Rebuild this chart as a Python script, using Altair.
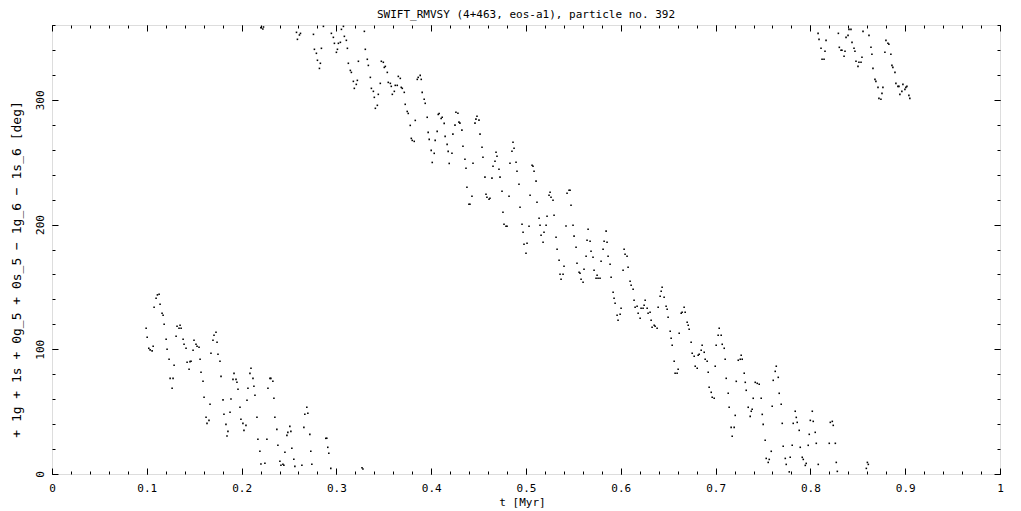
import altair as alt
import pandas as pd

# (t [Myr], resonant angle [deg])
left_band = [
    (0.0993,116.8),(0.1004,109.6),(0.1021,100.8),(0.1035,99.5),(0.1056,98.7),(0.1067,102.4),(0.1077,133.7),
    (0.1098,140.9),(0.1112,143.6),(0.1130,144.1),(0.1140,136.1),(0.1161,128.9),(0.1172,127.3),(0.1183,120.1),
    (0.1204,108.0),(0.1214,100.0),(0.1235,92.0),(0.1246,76.7),(0.1267,68.7),(0.1277,76.7),(0.1288,87.2),
    (0.1309,110.4),(0.1319,118.4),(0.1340,116.8),(0.1351,119.3),(0.1362,116.8),(0.1383,108.0),(0.1393,104.0),
    (0.1414,100.8),(0.1425,89.6),(0.1446,84.0),(0.1456,90.1),(0.1467,90.4),(0.1488,99.2),(0.1498,107.2),
    (0.1519,104.0),(0.1530,102.4),(0.1551,101.6),(0.1562,92.0),(0.1572,81.6),(0.1593,74.3),(0.1604,61.5),
    (0.1625,45.5),(0.1635,40.6),(0.1656,43.0),(0.1667,55.9),(0.1677,96.8),(0.1698,107.2),(0.1709,111.2),
    (0.1730,113.6),(0.1741,105.6),(0.1751,96.0),(0.1772,90.4),(0.1783,78.3),(0.1804,59.4),(0.1814,47.9),
    (0.1835,39.8),(0.1846,30.5),(0.1856,34.2),(0.1878,49.5),(0.1888,60.2),(0.1909,75.9),(0.1920,80.7),
    (0.1941,75.9),(0.1951,73.5),(0.1962,67.9),(0.1983,53.5),(0.1993,43.9),(0.2014,40.6),(0.2025,35.0),
    (0.2046,39.0),(0.2057,59.1),(0.2067,68.7),(0.2088,80.7),(0.2099,84.8),(0.2120,76.7),(0.2130,70.3),
    (0.2141,63.1),(0.2162,45.5),(0.2172,27.8),(0.2193,18.2),(0.2204,8.0),(0.2246,8.6),(0.2267,27.8),
    (0.2278,68.7),(0.2299,76.7),(0.2309,76.7),(0.2330,74.3),(0.2341,60.7),(0.2351,45.5),(0.2372,35.8),
    (0.2383,23.0),(0.2404,10.2),(0.2415,7.0),(0.2436,7.8),(0.2446,7.0),(0.2457,17.4),(0.2478,31.0),
    (0.2488,33.4),(0.2509,38.2),(0.2520,34.2),(0.2530,20.6),(0.2551,11.8),(0.2562,6.1),(0.2636,7.0),
    (0.2657,37.4),(0.2667,47.9),(0.2688,53.5),(0.2699,48.7),(0.2720,31.8),(0.2730,18.2),(0.2741,7.8),
    (0.2888,28.6),(0.2899,28.6),(0.2909,21.4),(0.2920,16.6),(0.2941,4.5),(0.3270,5.0),(0.3280,4.0),
]

main_band_upper = [
    (0.2203,357.9),(0.2224,356.8),(0.2231,358.4),(0.2579,354.1),(0.2610,352.0),(0.2621,353.3),(0.2589,348.5),
    (0.2758,352.5),(0.2768,340.5),(0.2789,337.3),(0.2800,331.7),(0.2821,325.2),(0.2831,329.3),(0.2842,341.3),
    (0.2863,358.9),(0.2947,353.3),(0.2968,350.1),(0.2979,345.3),(0.3000,338.1),(0.3011,340.5),(0.3021,345.3),
    (0.3042,346.1),(0.3053,356.5),(0.3074,358.9),(0.3084,350.9),(0.3105,347.7),(0.3116,341.3),(0.3126,329.3),
    (0.3147,323.6),(0.3158,322.0),(0.3179,314.8),(0.3189,309.2),(0.3210,312.4),(0.3221,315.6),(0.3232,330.9),
    (0.3295,354.9),(0.3305,340.5),(0.3326,332.5),(0.3337,327.6),(0.3358,318.0),(0.3369,309.2),(0.3390,306.8),
    (0.3400,302.0),(0.3411,293.2),(0.3432,295.6),(0.3442,304.4),(0.3463,313.2),(0.3474,330.9),(0.3495,330.1),
    (0.3505,326.0),(0.3516,326.8),(0.3537,322.0),(0.3547,314.0),(0.3569,313.2),(0.3579,310.8),(0.3590,304.4),
    (0.3611,306.8),(0.3621,311.6),(0.3642,311.6),(0.3653,318.8),(0.3674,317.2),(0.3684,310.0),(0.3695,309.2),
    (0.3716,306.0),(0.3726,296.4),(0.3747,290.7),(0.3758,289.1),(0.3779,279.5),(0.3790,269.1),(0.3800,267.5),
    (0.3821,266.7),(0.3832,283.5),(0.3853,316.4),(0.3863,318.0),(0.3884,319.6),(0.3895,316.4),(0.3905,306.0),
    (0.3926,300.4),(0.3937,297.2),(0.3958,286.0),(0.3968,273.9),(0.3979,268.3),(0.4000,259.5),(0.4011,249.8),
    (0.4032,257.1),(0.4042,267.5),(0.4063,274.7),(0.4074,288.3),(0.4084,289.1),(0.4105,285.1),(0.4116,286.0),
    (0.4137,281.1),(0.4147,270.7),(0.4168,264.3),(0.4179,258.7),(0.4190,249.0),
]

main_band_middle = [
    (0.4219,257.2),(0.4229,272.5),(0.4251,279.7),(0.4261,290.1),(0.4282,289.3),(0.4293,282.1),(0.4303,281.3),
    (0.4324,275.7),(0.4335,262.8),(0.4356,252.4),(0.4367,245.2),(0.4377,229.9),(0.4398,216.3),(0.4409,216.3),
    (0.4430,222.7),(0.4441,249.2),(0.4462,281.3),(0.4472,284.5),(0.4483,286.9),(0.4504,283.7),(0.4515,272.5),
    (0.4536,262.0),(0.4546,254.0),(0.4567,238.0),(0.4578,224.3),(0.4588,221.9),(0.4610,220.3),(0.4620,221.1),
    (0.4641,237.2),(0.4652,246.8),(0.4673,250.8),(0.4684,258.0),(0.4694,254.8),(0.4715,244.4),(0.4726,238.0),
    (0.4747,226.7),(0.4757,209.9),(0.4768,200.3),(0.4789,198.7),(0.4800,198.7),(0.4821,222.7),(0.4831,249.2),
    (0.4852,258.8),(0.4863,266.0),(0.4874,261.2),(0.4895,250.0),(0.4905,242.8),(0.4926,232.3),(0.4937,213.9),
    (0.4958,200.3),(0.4969,193.8),(0.4979,184.2),(0.5000,177.0),(0.5011,185.0),(0.5032,198.7),(0.5043,223.5),
    (0.5064,247.6),(0.5074,246.8),(0.5085,242.8),(0.5106,234.8),(0.5116,217.9),(0.5138,205.1),(0.5148,199.5),
    (0.5159,191.4),(0.5180,185.8),(0.5190,193.8),(0.5212,199.5),(0.5222,206.7),(0.5243,223.5),(0.5254,225.9),
    (0.5264,221.9),(0.5285,219.5),(0.5296,207.5),(0.5317,189.8),(0.5328,180.2),(0.5349,171.4),(0.5359,160.2),
    (0.5433,225.1),(0.5454,227.5),(0.5465,227.5),
]

main_band_lower = [
    (0.5370,156.1),(0.5391,160.2),(0.5401,166.6),(0.5422,198.9),(0.5475,215.5),(0.5496,199.5),(0.5507,190.7),
    (0.5528,181.8),(0.5538,169.0),(0.5560,161.8),(0.5570,161.0),(0.5581,156.2),(0.5602,153.8),(0.5612,164.2),
    (0.5634,174.6),(0.5644,187.4),(0.5655,196.3),(0.5676,186.6),(0.5686,178.6),(0.5707,173.8),(0.5718,163.4),
    (0.5739,157.0),(0.5750,159.4),(0.5760,157.0),(0.5781,157.0),(0.5792,170.6),(0.5813,180.2),(0.5824,186.6),
    (0.5845,194.7),(0.5855,185.8),(0.5866,174.6),(0.5887,168.2),(0.5898,157.8),(0.5919,145.7),(0.5929,140.9),
    (0.5940,136.9),(0.5961,127.3),(0.5971,123.3),(0.5993,128.1),(0.6003,132.9),(0.6024,163.4),(0.6035,180.2),
    (0.6045,176.2),(0.6066,174.6),(0.6077,165.8),(0.6098,154.6),(0.6109,151.3),(0.6130,148.1),(0.6140,139.3),
    (0.6151,133.7),(0.6172,134.5),(0.6183,128.9),(0.6204,124.9),(0.6214,132.9),(0.6235,132.9),(0.6246,135.3),
    (0.6257,139.3),(0.6278,132.9),(0.6288,128.9),(0.6309,129.7),(0.6320,123.3),(0.6330,117.7),(0.6352,119.3),
    (0.6362,118.5),(0.6383,116.9),(0.6394,133.7),(0.6415,142.5),(0.6426,146.5),(0.6436,149.7),(0.6457,141.7),
    (0.6478,134.5),(0.6489,132.1),(0.6499,125.7),(0.6521,114.4),(0.6531,108.8),(0.6542,103.2),(0.6563,90.4),
    (0.6573,80.8),(0.6594,80.8),(0.6605,84.0),(0.6616,112.8),(0.6637,128.9),(0.6647,129.7),(0.6668,133.7),
    (0.6679,129.7),(0.6700,121.7),(0.6711,119.3),(0.6721,116.1),(0.6742,105.6),(0.6753,96.8),(0.6774,94.4),
    (0.6785,86.4),(0.6806,84.8),(0.6816,95.2),(0.6827,96.0),(0.6848,99.2),(0.6858,103.2),(0.6880,97.6),
    (0.6890,92.0),(0.6911,90.4),(0.6922,81.6),(0.6932,69.5),(0.6954,65.5),(0.6964,61.5),(0.6985,60.7),
    (0.6996,86.4),(0.7006,103.2),(0.7027,111.2),(0.7038,116.9),(0.7059,111.2),(0.7070,104.0),(0.7091,100.8),
    (0.7101,92.0),(0.7112,76.7),(0.7133,64.7),(0.7218,74.3),(0.7239,91.2),(0.7260,92.0),(0.7270,95.2),
    (0.7281,92.0),(0.7302,80.8),(0.7313,73.5),(0.7323,67.1),(0.7397,60.7),(0.7418,73.5),(0.7439,72.7),
    (0.7460,71.9),
]

main_band_tail = [
    (0.7143,53.5),(0.7164,37.4),(0.7175,30.2),(0.7196,37.4),(0.7207,47.0),(0.7344,53.5),(0.7365,46.2),
    (0.7376,50.3),(0.7386,51.9),(0.7481,60.7),(0.7492,47.8),(0.7502,39.8),(0.7523,27.0),(0.7534,12.5),
    (0.7555,9.3),(0.7566,11.7),(0.7587,18.2),(0.7597,54.3),(0.7608,75.1),(0.7629,82.3),(0.7640,86.4),
    (0.7661,77.5),(0.7671,64.7),(0.7692,55.9),(0.7703,40.6),(0.7713,22.2),(0.7735,12.5),(0.7745,7.7),
    (0.7777,1.7),(0.7787,13.4),(0.7808,23.0),(0.7819,40.6),(0.7840,50.3),(0.7851,45.4),(0.7861,41.4),
    (0.7882,35.0),(0.7893,21.4),(0.7914,13.4),(0.7925,11.7),(0.7946,6.9),(0.7956,8.5),(0.7977,23.0),
    (0.7988,31.8),(0.7999,43.0),(0.8020,50.3),(0.8030,42.2),(0.8051,33.4),(0.8062,24.6),(0.8083,7.7),
    (0.8199,24.6),(0.8210,41.4),(0.8231,42.2),(0.8241,39.0),(0.8263,24.6),(0.8273,9.3),(0.8284,2.1),
    (0.8590,4.5),(0.8601,9.3),(0.8611,7.7),
]

right_band = [
    (0.8081,353.3),(0.8091,348.5),(0.8112,341.3),(0.8123,332.5),(0.8144,332.5),(0.8154,338.9),(0.8165,347.7),
    (0.8295,353.3),(0.8305,342.1),(0.8323,339.7),(0.8333,339.7),(0.8355,334.9),(0.8365,338.9),(0.8376,350.1),
    (0.8397,351.7),(0.8407,356.5),(0.8428,356.5),(0.8439,346.1),(0.8460,341.3),(0.8470,338.9),(0.8481,330.9),
    (0.8502,326.8),(0.8512,330.1),(0.8534,330.1),(0.8544,334.1),(0.8555,354.9),(0.8618,351.7),(0.8639,342.1),
    (0.8649,336.5),(0.8660,325.2),(0.8681,316.4),(0.8691,314.8),(0.8713,310.0),(0.8723,301.2),(0.8744,300.4),
    (0.8755,305.2),(0.8765,310.0),(0.8786,338.1),(0.8797,347.7),(0.8818,345.3),(0.8828,344.5),(0.8849,336.5),
    (0.8860,327.6),(0.8870,326.0),(0.8892,322.0),(0.8902,313.2),(0.8923,310.8),(0.8934,310.8),(0.8944,304.4),
    (0.8965,306.8),(0.8976,312.4),(0.8997,308.4),(0.9007,310.0),(0.9018,310.8),(0.9039,303.6),(0.9049,301.2),
]

x_major = [0, 0.1, 0.2, 0.3, 0.4, 0.5, 0.6, 0.7, 0.8, 0.9, 1]
x_minor = [round(i * 0.02, 2) for i in range(51)]
y_major = [0, 100, 200, 300]
y_minor = [i * 20 for i in range(19)]

title_text = "SWIFT_RMVSY (4+463, eos-a1), particle no. 392"
x_title = "t [Myr]"
y_title = "+ 1g + 1s + 0g_5 + 0s_5 \u2212 1g_6 \u2212 1s_6 [deg]"

rows = left_band + main_band_upper + main_band_middle + main_band_lower + main_band_tail + right_band
df = pd.DataFrame(rows, columns=["t", "a"])

FONT = "DejaVu Sans Mono"
xscale = alt.Scale(domain=[0, 1], nice=False, zero=False)
yscale = alt.Scale(domain=[0, 360], nice=False, zero=False)

base = alt.Chart(df)

points = base.mark_square(size=2.5, color="black", opacity=1, strokeWidth=0).encode(
    x=alt.X("t:Q", scale=xscale, axis=alt.Axis(
        orient="bottom", values=x_major, format="~g", ticks=False, domain=False, grid=False,
        labelFlush=False, labelOverlap=False, labelPadding=8, labelFontSize=11,
        labelFont=FONT, labelColor="black",
        title=x_title, titleFont=FONT, titleFontSize=11, titleFontWeight="normal",
        titleColor="black", titlePadding=3, titleX=470)),
    y=alt.Y("a:Q", scale=yscale, axis=alt.Axis(
        orient="left", values=y_major, format="d", ticks=False, domain=False, grid=False,
        labelAngle=270, labelAlign="center", labelBaseline="alphabetic", labelPadding=9,
        labelFontSize=11, labelFlush=False, labelFont=FONT, labelColor="black",
        title=y_title, titleFont=FONT, titleFontSize=13, titleFontWeight="normal",
        titleColor="black", titleAngle=270,
        titleAlign="center", titleBaseline="alphabetic", titleX=-32, titleY=244)),
)


def tick_layer(size, xvals, yvals, xo, yo):
    return base.mark_point(size=0, opacity=0).encode(
        x=alt.X("t:Q", scale=xscale, axis=alt.Axis(
            orient=xo, values=xvals, labels=False, domain=False, grid=False,
            tickSize=size, offset=-size, title=None, tickColor="black", tickWidth=1)),
        y=alt.Y("a:Q", scale=yscale, axis=alt.Axis(
            orient=yo, values=yvals, labels=False, domain=False, grid=False,
            tickSize=size, offset=-size, title=None, tickColor="black", tickWidth=1)),
    )


chart = alt.layer(
    points,
    tick_layer(6, x_major, y_major, "bottom", "left"),
    tick_layer(3, x_minor, y_minor, "bottom", "left"),
    tick_layer(6, x_major, y_major, "top", "right"),
    tick_layer(3, x_minor, y_minor, "top", "right"),
).resolve_axis(x="independent", y="independent").properties(
    width=948, height=449,
    title=alt.TitleParams(title_text, fontSize=11, fontWeight="normal", font=FONT,
                          anchor="middle", offset=5, color="black"),
    autosize=alt.AutoSizeParams(type="none"),
    padding={"left": 44, "top": 17, "right": 10, "bottom": 36},
).configure_view(stroke="black", strokeWidth=1).configure_axis(
    labelFont=FONT, titleFont=FONT, labelColor="black", titleColor="black",
    tickColor="black", domainColor="black",
).configure(background="white")

chart.save("out.html", embed_options={"renderer": "svg", "actions": False})
